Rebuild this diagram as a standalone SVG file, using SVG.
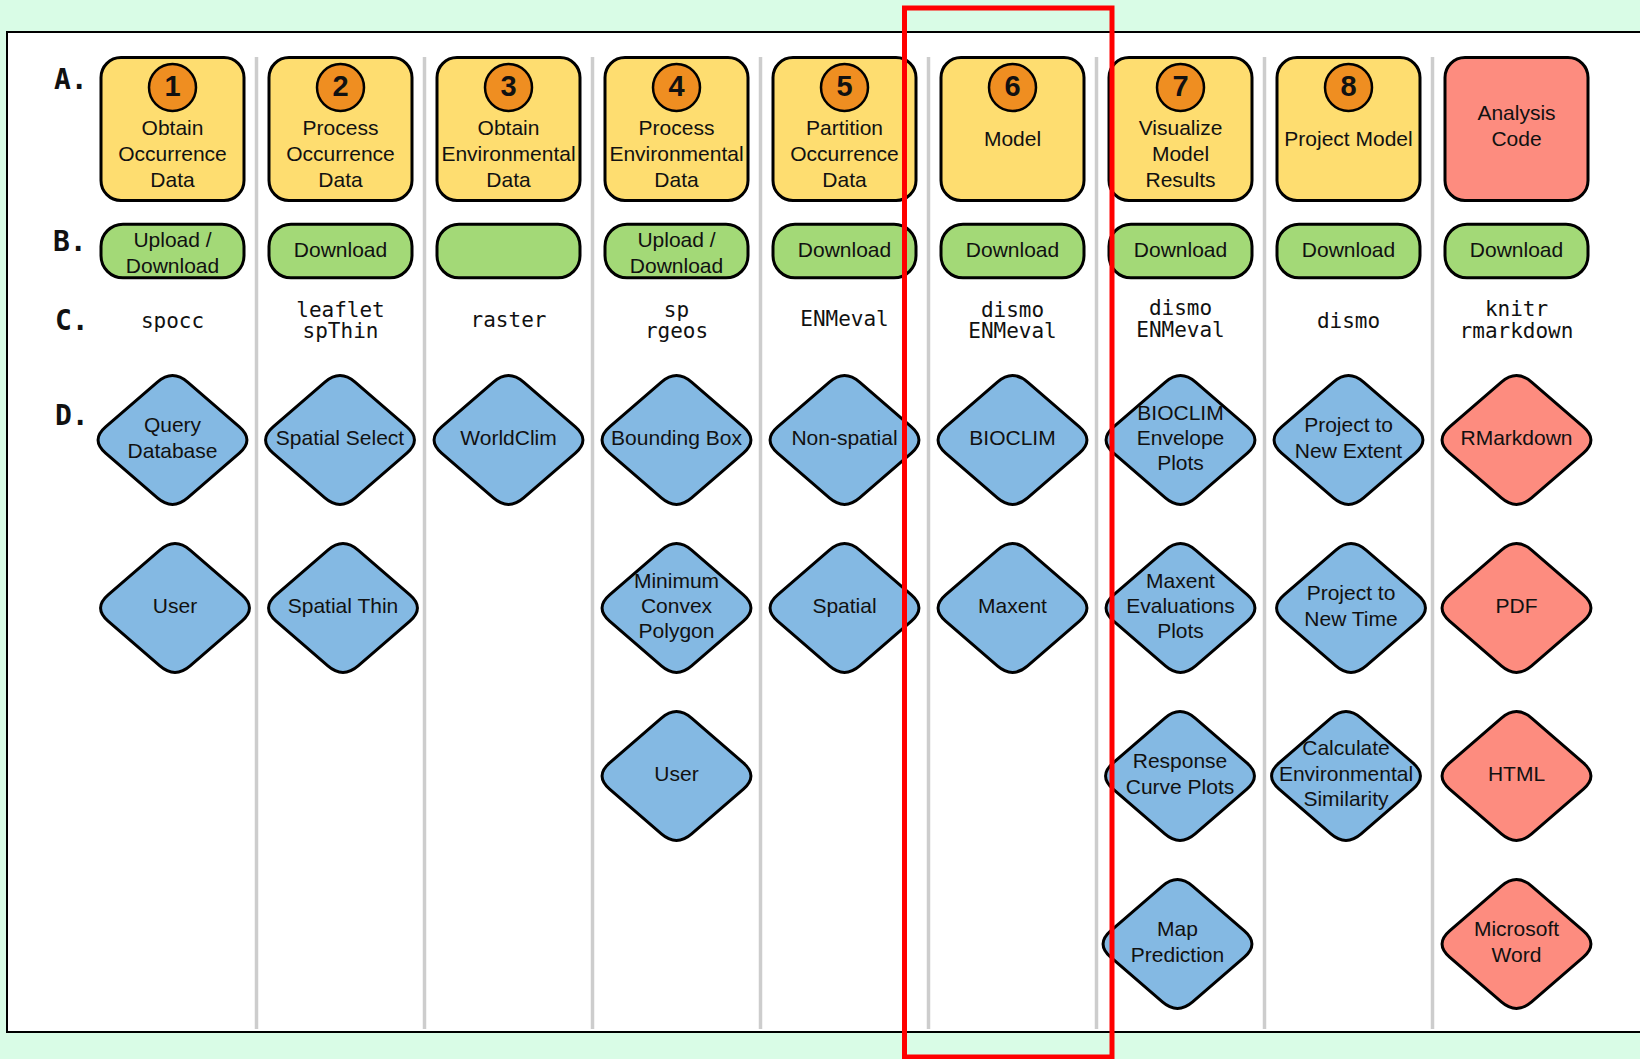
<svg xmlns="http://www.w3.org/2000/svg" xmlns:xlink="http://www.w3.org/1999/xlink" width="1640" height="1059" viewBox="0 0 1640 1059">
<style>
.panel{fill:#ffffff;stroke:#000;stroke-width:2}
.dv{stroke:#cdcdcd;stroke-width:3.5}
.ba{fill:#fedd70;stroke:#000;stroke-width:3}
.bc{fill:#fd8c7f;stroke:#000;stroke-width:3}
.bb{fill:#a3d977;stroke:#000;stroke-width:3}
.nc{fill:#ef8e21;stroke:#000;stroke-width:2.5}
.dm{fill:#84b9e3;stroke:#000;stroke-width:3}
.dr{fill:#fd8c7f;stroke:#000;stroke-width:3}
text{font-family:"Liberation Sans",Arial,sans-serif;font-size:21px;fill:#111;text-anchor:middle}
.num{font-weight:bold;font-size:29px}
.mono{font-family:"DejaVu Sans Mono","Liberation Mono",monospace;font-size:21px}
.lbl{font-family:"DejaVu Sans Mono","Liberation Mono",monospace;font-size:28px;font-weight:bold;text-anchor:start}
</style>
<defs>
<path id="dia" d="M -15.12,-57.91 Q 0,-71 15.12,-57.91 L 66.88,-13.09 Q 82,0 66.88,13.09 L 15.12,57.91 Q 0,71 -15.12,57.91 L -66.88,13.09 Q -82,0 -66.88,-13.09 Z"/>
</defs>
<rect x="0" y="0" width="1640" height="1059" fill="#d9fce6"/>
<rect class="panel" x="7" y="32" width="1640" height="1000"/>
<g id="dividers">
<line class="dv" x1="256.5" y1="57" x2="256.5" y2="1029"/>
<line class="dv" x1="424.5" y1="57" x2="424.5" y2="1029"/>
<line class="dv" x1="592.5" y1="57" x2="592.5" y2="1029"/>
<line class="dv" x1="760.5" y1="57" x2="760.5" y2="1029"/>
<line class="dv" x1="928.5" y1="57" x2="928.5" y2="1029"/>
<line class="dv" x1="1096.5" y1="57" x2="1096.5" y2="1029"/>
<line class="dv" x1="1264.5" y1="57" x2="1264.5" y2="1029"/>
<line class="dv" x1="1432.5" y1="57" x2="1432.5" y2="1029"/>
</g>
<g id="row-labels">
<text class="lbl" x="54" y="89">A.</text>
<text class="lbl" x="53" y="251">B.</text>
<text class="lbl" x="55" y="330">C.</text>
<text class="lbl" x="55" y="425">D.</text>
</g>
<g id="connectors"/>
<!-- Row A -->
<g id="a1"><rect class="ba" x="101" y="57.5" width="143" height="143" rx="20"/><circle class="nc" cx="172.5" cy="87.5" r="23.5"/><text class="num" x="172.5" y="96">1</text><text x="172.5" y="135">Obtain</text><text x="172.5" y="161">Occurrence</text><text x="172.5" y="187">Data</text></g>
<g id="a2"><rect class="ba" x="269" y="57.5" width="143" height="143" rx="20"/><circle class="nc" cx="340.5" cy="87.5" r="23.5"/><text class="num" x="340.5" y="96">2</text><text x="340.5" y="135">Process</text><text x="340.5" y="161">Occurrence</text><text x="340.5" y="187">Data</text></g>
<g id="a3"><rect class="ba" x="437" y="57.5" width="143" height="143" rx="20"/><circle class="nc" cx="508.5" cy="87.5" r="23.5"/><text class="num" x="508.5" y="96">3</text><text x="508.5" y="135">Obtain</text><text x="508.5" y="161">Environmental</text><text x="508.5" y="187">Data</text></g>
<g id="a4"><rect class="ba" x="605" y="57.5" width="143" height="143" rx="20"/><circle class="nc" cx="676.5" cy="87.5" r="23.5"/><text class="num" x="676.5" y="96">4</text><text x="676.5" y="135">Process</text><text x="676.5" y="161">Environmental</text><text x="676.5" y="187">Data</text></g>
<g id="a5"><rect class="ba" x="773" y="57.5" width="143" height="143" rx="20"/><circle class="nc" cx="844.5" cy="87.5" r="23.5"/><text class="num" x="844.5" y="96">5</text><text x="844.5" y="135">Partition</text><text x="844.5" y="161">Occurrence</text><text x="844.5" y="187">Data</text></g>
<g id="a6"><rect class="ba" x="941" y="57.5" width="143" height="143" rx="20"/><circle class="nc" cx="1012.5" cy="87.5" r="23.5"/><text class="num" x="1012.5" y="96">6</text><text x="1012.5" y="146">Model</text></g>
<g id="a7"><rect class="ba" x="1109" y="57.5" width="143" height="143" rx="20"/><circle class="nc" cx="1180.5" cy="87.5" r="23.5"/><text class="num" x="1180.5" y="96">7</text><text x="1180.5" y="135">Visualize</text><text x="1180.5" y="161">Model</text><text x="1180.5" y="187">Results</text></g>
<g id="a8"><rect class="ba" x="1277" y="57.5" width="143" height="143" rx="20"/><circle class="nc" cx="1348.5" cy="87.5" r="23.5"/><text class="num" x="1348.5" y="96">8</text><text x="1348.5" y="146">Project Model</text></g>
<g id="a9"><rect class="bc" x="1445" y="57.5" width="143" height="143" rx="20"/><text x="1516.5" y="120">Analysis</text><text x="1516.5" y="146">Code</text></g>
<!-- Row B -->
<g id="b1"><rect class="bb" x="101" y="224.2" width="143" height="53.6" rx="22"/><text x="172.5" y="247">Upload /</text><text x="172.5" y="273">Download</text></g>
<g id="b2"><rect class="bb" x="269" y="224.2" width="143" height="53.6" rx="22"/><text x="340.5" y="257">Download</text></g>
<g id="b3"><rect class="bb" x="437" y="224.2" width="143" height="53.6" rx="22"/></g>
<g id="b4"><rect class="bb" x="605" y="224.2" width="143" height="53.6" rx="22"/><text x="676.5" y="247">Upload /</text><text x="676.5" y="273">Download</text></g>
<g id="b5"><rect class="bb" x="773" y="224.2" width="143" height="53.6" rx="22"/><text x="844.5" y="257">Download</text></g>
<g id="b6"><rect class="bb" x="941" y="224.2" width="143" height="53.6" rx="22"/><text x="1012.5" y="257">Download</text></g>
<g id="b7"><rect class="bb" x="1109" y="224.2" width="143" height="53.6" rx="22"/><text x="1180.5" y="257">Download</text></g>
<g id="b8"><rect class="bb" x="1277" y="224.2" width="143" height="53.6" rx="22"/><text x="1348.5" y="257">Download</text></g>
<g id="b9"><rect class="bb" x="1445" y="224.2" width="143" height="53.6" rx="22"/><text x="1516.5" y="257">Download</text></g>
<!-- Row C -->
<g id="c1"><text class="mono" x="172.5" y="328">spocc</text></g>
<g id="c2"><text class="mono" x="340.5" y="317">leaflet</text><text class="mono" x="340.5" y="338">spThin</text></g>
<g id="c3"><text class="mono" x="508.5" y="327">raster</text></g>
<g id="c4"><text class="mono" x="676.5" y="317">sp</text><text class="mono" x="676.5" y="338">rgeos</text></g>
<g id="c5"><text class="mono" x="844.5" y="326">ENMeval</text></g>
<g id="c6"><text class="mono" x="1012.5" y="317">dismo</text><text class="mono" x="1012.5" y="338">ENMeval</text></g>
<g id="c7"><text class="mono" x="1180.5" y="315">dismo</text><text class="mono" x="1180.5" y="337">ENMeval</text></g>
<g id="c8"><text class="mono" x="1348.5" y="328">dismo</text></g>
<g id="c9"><text class="mono" x="1516.5" y="316">knitr</text><text class="mono" x="1516.5" y="338">rmarkdown</text></g>
<!-- Row D -->
<g id="d1-1"><use xlink:href="#dia" class="dm" x="172.5" y="440"/><text x="172.5" y="432">Query</text><text x="172.5" y="457.5">Database</text></g>
<g id="d1-2"><use xlink:href="#dia" class="dm" x="175" y="608"/><text x="175" y="612.5">User</text></g>
<g id="d2-1"><use xlink:href="#dia" class="dm" x="340" y="440"/><text x="340" y="444.5">Spatial Select</text></g>
<g id="d2-2"><use xlink:href="#dia" class="dm" x="343" y="608"/><text x="343" y="612.5">Spatial Thin</text></g>
<g id="d3-1"><use xlink:href="#dia" class="dm" x="508.5" y="440"/><text x="508.5" y="444.5">WorldClim</text></g>
<g id="d4-1"><use xlink:href="#dia" class="dm" x="676.5" y="440"/><text x="676.5" y="444.5">Bounding Box</text></g>
<g id="d4-2"><use xlink:href="#dia" class="dm" x="676.5" y="608"/><text x="676.5" y="587.5">Minimum</text><text x="676.5" y="612.5">Convex</text><text x="676.5" y="638">Polygon</text></g>
<g id="d4-3"><use xlink:href="#dia" class="dm" x="676.5" y="776"/><text x="676.5" y="780.5">User</text></g>
<g id="d5-1"><use xlink:href="#dia" class="dm" x="844.5" y="440"/><text x="844.5" y="444.5">Non-spatial</text></g>
<g id="d5-2"><use xlink:href="#dia" class="dm" x="844.5" y="608"/><text x="844.5" y="612.5">Spatial</text></g>
<g id="d6-1"><use xlink:href="#dia" class="dm" x="1012.5" y="440"/><text x="1012.5" y="444.5">BIOCLIM</text></g>
<g id="d6-2"><use xlink:href="#dia" class="dm" x="1012.5" y="608"/><text x="1012.5" y="612.5">Maxent</text></g>
<g id="d7-1"><use xlink:href="#dia" class="dm" x="1180.5" y="440"/><text x="1180.5" y="419.5">BIOCLIM</text><text x="1180.5" y="444.5">Envelope</text><text x="1180.5" y="470">Plots</text></g>
<g id="d7-2"><use xlink:href="#dia" class="dm" x="1180.5" y="608"/><text x="1180.5" y="587.5">Maxent</text><text x="1180.5" y="612.5">Evaluations</text><text x="1180.5" y="638">Plots</text></g>
<g id="d7-3"><use xlink:href="#dia" class="dm" x="1180" y="776"/><text x="1180" y="768">Response</text><text x="1180" y="793.5">Curve Plots</text></g>
<g id="d7-4"><use xlink:href="#dia" class="dm" x="1177.5" y="944"/><text x="1177.5" y="936">Map</text><text x="1177.5" y="961.5">Prediction</text></g>
<g id="d8-1"><use xlink:href="#dia" class="dm" x="1348.5" y="440"/><text x="1348.5" y="432">Project to</text><text x="1348.5" y="457.5">New Extent</text></g>
<g id="d8-2"><use xlink:href="#dia" class="dm" x="1351" y="608"/><text x="1351" y="600">Project to</text><text x="1351" y="625.5">New Time</text></g>
<g id="d8-3"><use xlink:href="#dia" class="dm" x="1346" y="776"/><text x="1346" y="755">Calculate</text><text x="1346" y="780.5">Environmental</text><text x="1346" y="806">Similarity</text></g>
<g id="d9-1"><use xlink:href="#dia" class="dr" x="1516.5" y="440"/><text x="1516.5" y="444.5">RMarkdown</text></g>
<g id="d9-2"><use xlink:href="#dia" class="dr" x="1516.5" y="608"/><text x="1516.5" y="612.5">PDF</text></g>
<g id="d9-3"><use xlink:href="#dia" class="dr" x="1516.5" y="776"/><text x="1516.5" y="780.5">HTML</text></g>
<g id="d9-4"><use xlink:href="#dia" class="dr" x="1516.5" y="944"/><text x="1516.5" y="936">Microsoft</text><text x="1516.5" y="961.5">Word</text></g>
<g id="highlight"><rect x="904.5" y="8" width="207.5" height="1049" fill="none" stroke="#ff0000" stroke-width="5"/></g>
</svg>
